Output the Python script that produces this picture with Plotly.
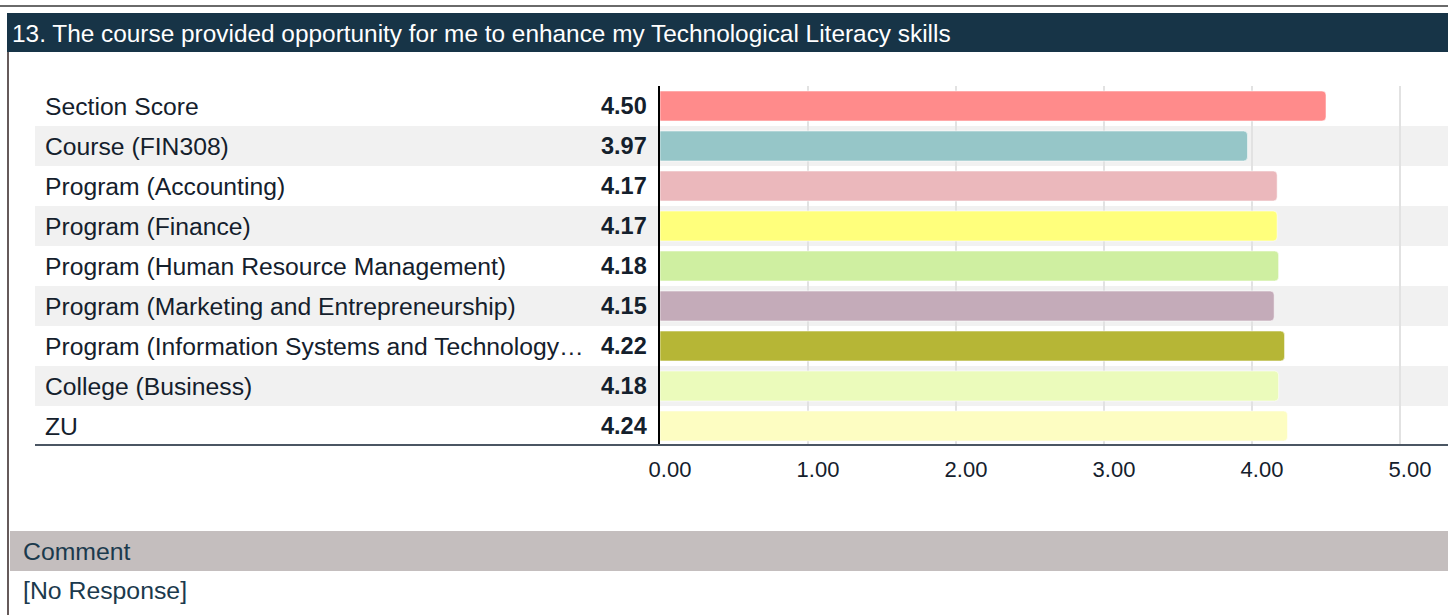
import plotly.graph_objects as go

# ---------------- data ----------------
categories = [
    "Section Score",
    "Course (FIN308)",
    "Program (Accounting)",
    "Program (Finance)",
    "Program (Human Resource Management)",
    "Program (Marketing and Entrepreneurship)",
    "Program (Information Systems and Technology…",
    "College (Business)",
    "ZU",
]
scores = [4.50, 3.97, 4.17, 4.17, 4.18, 4.15, 4.22, 4.18, 4.24]
score_labels = ["4.50", "3.97", "4.17", "4.17", "4.18", "4.15", "4.22", "4.18", "4.24"]
bar_colors = ["#ff8b8b", "#96c6c8", "#ebb8bc", "#ffff7c", "#cfefa1",
              "#c4abb9", "#b6b636", "#ebfbbb", "#fdfdc2"]
tick_values = [0, 1, 2, 3, 4, 5]
tick_labels = ["0.00", "1.00", "2.00", "3.00", "4.00", "5.00"]
title_text = "13. The course provided opportunity for me to enhance my Technological Literacy skills"
comment_header = "Comment"
comment_text = "[No Response]"

# ---------------- layout geometry ----------------
W, H = 1448, 615
L, R, T, B = 660, 0, 86, 169
PX_PER_UNIT = 148.0
x_max = (W - L - R) / PX_PER_UNIT
plot_w = W - L - R
plot_h = H - T - B


def px2x(px):
    return (px - L) / plot_w


def py2y(py):
    return (H - B - py) / plot_h


FONT = "Liberation Sans, Arial, Helvetica, sans-serif"
TXT = "#14202c"

fig = go.Figure()
fig.add_trace(go.Bar(
    y=categories,
    x=scores,
    orientation="h",
    marker=dict(color=bar_colors, cornerradius=4,
                line=dict(width=1, color="rgba(255,255,255,0.55)")),
    width=0.75,
    hoverinfo="x+y",
    showlegend=False,
))

shapes = []
# striped rows
for i, c in enumerate(categories):
    if i % 2 == 1:
        shapes.append(dict(type="rect", xref="paper", yref="y",
                           x0=px2x(35), x1=1.0, y0=i - 0.5, y1=i + 0.5,
                           fillcolor="#f1f1f1", line=dict(width=0), layer="below"))
# bottom axis line
shapes.append(dict(type="line", xref="paper", yref="paper",
                   x0=px2x(35), x1=1.0, y0=py2y(445), y1=py2y(445),
                   line=dict(color="#4b5663", width=2), layer="above"))
# title bar
shapes.append(dict(type="rect", xref="paper", yref="paper",
                   x0=px2x(7), x1=1.0, y0=py2y(52), y1=py2y(13),
                   fillcolor="#173447", line=dict(width=0), layer="above"))
# top thin line
shapes.append(dict(type="line", xref="paper", yref="paper",
                   x0=px2x(0), x1=1.0, y0=py2y(6), y1=py2y(6),
                   line=dict(color="#6a6a6a", width=2), layer="above"))
# left border
shapes.append(dict(type="line", xref="paper", yref="paper",
                   x0=px2x(8), x1=px2x(8), y0=py2y(52), y1=py2y(H + 2),
                   line=dict(color="#655a5a", width=2), layer="above"))
# comment bar
shapes.append(dict(type="rect", xref="paper", yref="paper",
                   x0=px2x(10), x1=1.0, y0=py2y(571), y1=py2y(531),
                   fillcolor="#c4bebe", line=dict(width=0), layer="above"))

annotations = []
for c, lab in zip(categories, score_labels):
    annotations.append(dict(xref="paper", yref="y", x=px2x(43), y=c,
                            text=c, showarrow=False, xanchor="left", yanchor="middle",
                            font=dict(family=FONT, size=24.7, color=TXT)))
    annotations.append(dict(xref="paper", yref="y", x=px2x(649), y=c,
                            text="<b>" + lab + "</b>", showarrow=False,
                            xanchor="right", yanchor="middle",
                            font=dict(family=FONT, size=23.5, color=TXT)))
annotations.append(dict(xref="paper", yref="paper", x=px2x(10), y=py2y(33),
                        text=title_text, showarrow=False, xanchor="left", yanchor="middle",
                        font=dict(family=FONT, size=24.4, color="#ffffff")))
annotations.append(dict(xref="paper", yref="paper", x=px2x(21), y=py2y(551),
                        text=comment_header, showarrow=False, xanchor="left", yanchor="middle",
                        font=dict(family=FONT, size=24.8, color="#1b3a4d")))
annotations.append(dict(xref="paper", yref="paper", x=px2x(21), y=py2y(590),
                        text=comment_text, showarrow=False, xanchor="left", yanchor="middle",
                        font=dict(family=FONT, size=24.8, color="#1b3a4d")))

fig.update_layout(
    width=W, height=H,
    margin=dict(l=L, r=R, t=T, b=B, pad=0),
    paper_bgcolor="#ffffff",
    plot_bgcolor="rgba(0,0,0,0)",
    shapes=shapes,
    annotations=annotations,
    bargap=0.25,
    xaxis=dict(range=[0, x_max], tickvals=tick_values, ticktext=tick_labels,
               showgrid=True, gridcolor="#e2e2e2", gridwidth=1.5,
               zeroline=False, showline=False, ticks="",
               ticklabelshift=10, ticklabelstandoff=8,
               tickfont=dict(family=FONT, size=22, color=TXT), fixedrange=True),
    yaxis=dict(autorange="reversed", showticklabels=False, showgrid=False,
               zeroline=False, showline=True, linecolor="#000000", linewidth=2,
               ticks="", fixedrange=True),
    font=dict(family=FONT),
)

fig.write_html(
    "out.html",
    config={"displayModeBar": False},
    post_script="document.body.style.margin='0px';document.body.style.overflow='hidden';",
)
